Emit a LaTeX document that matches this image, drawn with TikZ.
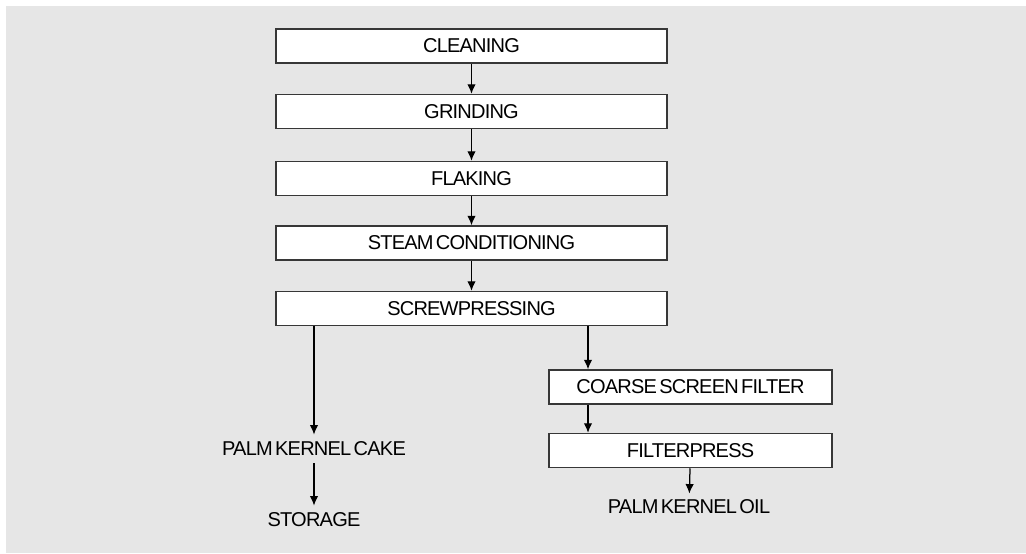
\documentclass[tikz,border=0pt]{standalone}
\usepackage{fontspec}
\setmainfont{Liberation Sans}[LetterSpace=-4, WordSpace=0.5]
\usetikzlibrary{arrows.meta, positioning}
\definecolor{panel}{RGB}{230, 230, 230}
\definecolor{frame}{RGB}{55, 55, 55}

\begin{document}
\begin{tikzpicture}[
	x=0.2mm, y=-0.2mm,
	>={Latex[length=1.9mm, width=1.7mm]},
	font=\fontsize{11.4}{13}\selectfont,
	% Styles for the process boxes
	stepbox/.style={draw=frame, line width=0.3mm, fill=white, minimum width=78.2mm, minimum height=6.8mm, inner sep=0pt},
	filterbox/.style={stepbox, minimum width=56.6mm},
	% Styles for the plain product labels and the flow lines
	product/.style={inner sep=1.4mm},
	flow/.style={->, line width=0.25mm, black}
	]
	
	% ==========================================
	% FRAME
	% ==========================================
	\useasboundingbox (0, 0) rectangle (1026, 553);
	\fill[panel] (6, 6) rectangle (1026, 553);
	
	% ==========================================
	% MAIN LINE
	% ==========================================
	\node[stepbox] (clean) at (471.5, 46) {CLEANING};
	\node[stepbox] (grind) at (471.5, 111.5) {GRINDING};
	\node[stepbox] (flake) at (471.5, 178.5) {FLAKING};
	\node[stepbox] (steam) at (471.5, 243) {STEAM CONDITIONING};
	\node[stepbox] (press) at (471.5, 308.5) {SCREWPRESSING};
	
	\draw[flow] (clean) -- (grind);
	\draw[flow] (grind) -- (flake);
	\draw[flow] (flake) -- (steam);
	\draw[flow] (steam) -- (press);
	
	% ==========================================
	% CAKE BRANCH
	% ==========================================
	\node[product] (cake) at (314, 449) {PALM KERNEL CAKE};
	\node[product] (store) at (314, 520) {STORAGE};
	
	\draw[flow] (press.south -| cake.north) -- (cake.north);
	\draw[flow] (cake) -- (store);
	
	% ==========================================
	% OIL BRANCH
	% ==========================================
	\node[filterbox] (coarse) at (690.5, 387) {COARSE SCREEN FILTER};
	\node[filterbox] (fpress) at (690.5, 450.5) {FILTERPRESS};
	\node[product, inner sep=1.2mm] (oil) at (689, 507) {PALM KERNEL OIL};
	\coordinate (tap) at (588, 0);
	
	\draw[flow] (press.south -| tap) -- (coarse.north -| tap);
	\draw[flow] (coarse.south -| tap) -- (fpress.north -| tap);
	\draw[flow] (fpress) -- (oil);
	
\end{tikzpicture}
\end{document}
